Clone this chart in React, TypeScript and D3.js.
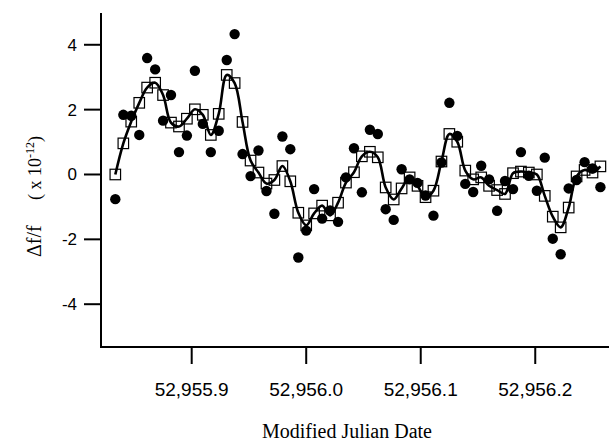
import React from 'react';
import * as d3 from 'd3';

// MJD sample times (10 min cadence)
const mjd = [
  52955.8333, 52955.8403, 52955.8472, 52955.8542, 52955.8611, 52955.8681, 52955.875, 52955.8819,
  52955.8889, 52955.8958, 52955.9028, 52955.9097, 52955.9167, 52955.9236, 52955.9306, 52955.9375,
  52955.9444, 52955.9514, 52955.9583, 52955.9653, 52955.9722, 52955.9792, 52955.9861, 52955.9931,
  52956.0, 52956.0069, 52956.0139, 52956.0208, 52956.0278, 52956.0347, 52956.0417, 52956.0486,
  52956.0556, 52956.0625, 52956.0694, 52956.0764, 52956.0833, 52956.0903, 52956.0972, 52956.1042,
  52956.1111, 52956.1181, 52956.125, 52956.1319, 52956.1389, 52956.1458, 52956.1528, 52956.1597,
  52956.1667, 52956.1736, 52956.1806, 52956.1875, 52956.1944, 52956.2014, 52956.2083, 52956.2153,
  52956.2222, 52956.2292, 52956.2361, 52956.2431, 52956.25, 52956.2569,
];

// raw fractional frequency (filled circles), x 1e-12
const raw = [
  -0.76, 1.84, 1.81, 1.22, 3.59, 3.24, 1.66, 2.45,
  0.69, 1.2, 3.2, 1.56, 0.69, 1.35, 3.53, 4.33,
  0.63, -0.05, 0.74, -0.51, -1.21, 1.17, 0.78, -2.56,
  -1.73, -0.45, -1.36, -1.11, -1.46, -0.09, 0.81, -0.55,
  1.38, 1.25, -1.07, -1.4, 0.16, -0.15, -0.26, -0.65,
  -1.27, 0.37, 2.21, 1.19, -0.29, -0.54, 0.27, -0.15,
  -1.12, -0.2, -0.45, 0.69, -0.04, -0.5, 0.52, -1.98,
  -2.46, -0.43, -0.17, 0.38, 0.19, -0.39,
];

// smoothed values (open squares)
const smooth = [
  0.0, 0.96, 1.63, 2.21, 2.68, 2.83, 2.45, 1.6,
  1.48, 1.72, 2.01, 1.84, 1.22, 1.87, 3.07, 2.82,
  1.62, 0.43, 0.06, -0.28, -0.17, 0.26, -0.21, -1.18,
  -1.57, -1.2, -0.96, -1.26, -0.87, -0.25, 0.07, 0.56,
  0.7, 0.53, -0.4, -0.77, -0.43, -0.09, -0.35, -0.7,
  -0.5, 0.4, 1.25, 1.01, 0.12, -0.15, -0.09, -0.35,
  -0.48, -0.6, 0.04, 0.09, 0.06, 0.0, -0.66, -1.3,
  -1.63, -1.02, -0.06, 0.14, 0.06, 0.25,
];

const yTicks = [-4, -2, 0, 2, 4];
const xTicks = [52955.9, 52956.0, 52956.1, 52956.2];
const xTickLabels = ['52,955.9', '52,956.0', '52,956.1', '52,956.2'];

const W = 609;
const H = 443;
const left = 101;
const right = 609;
const top = 13;
const bottom = 347;

const App = () => {
  const x = d3.scaleLinear().domain([52955.8208, 52956.2644]).range([left, right]);
  const y = d3.scaleLinear().domain([-5.32, 4.98]).range([bottom, top]);

  const pts = mjd.map((t, i) => ({ t, raw: raw[i], s: smooth[i] }));

  const line = d3.line<{ t: number; s: number }>()
    .x(d => x(d.t))
    .y(d => y(d.s))
    .curve(d3.curveCatmullRom.alpha(0.5));

  const sq = 10.5;
  const tickLen = 17;
  const sans = 'Liberation Sans, Arial, Helvetica, sans-serif';
  const serif = 'Liberation Serif, Times New Roman, serif';

  return (
    <div style={{ position: 'absolute', left: 0, top: 0 }}>
      <svg width={W} height={H} style={{ display: 'block', background: '#fff' }}>
        {/* axes */}
        <line x1={left} x2={left} y1={top} y2={bottom + 1} stroke="#000" strokeWidth={2} />
        <line x1={left - 1} x2={right} y1={bottom} y2={bottom} stroke="#000" strokeWidth={2} />

        {yTicks.map(v => (
          <g key={v}>
            <line x1={left - tickLen} x2={left} y1={y(v)} y2={y(v)} stroke="#000" strokeWidth={2} />
            <text x={77} y={y(v) + 6} textAnchor="end" fontFamily={sans} fontSize={17} fill="#000">{v}</text>
          </g>
        ))}

        {xTicks.map((v, i) => (
          <g key={v}>
            <line x1={x(v)} x2={x(v)} y1={bottom} y2={bottom + tickLen} stroke="#000" strokeWidth={2} />
            <text x={x(v)} y={396} textAnchor="middle" fontFamily={sans} fontSize={19} fill="#000">{xTickLabels[i]}</text>
          </g>
        ))}

        {/* axis titles */}
        <text x={347} y={438} textAnchor="middle" fontFamily={serif} fontSize={20} fill="#000">Modified Julian Date</text>
        <g transform="translate(41,257) rotate(-90)">
          <text x={0} y={0} fontFamily={serif} fontSize={20} fill="#000">Δf/f</text>
          <text x={57} y={0} fontFamily={serif} fontSize={18} fill="#000">
            ( x 10<tspan dy={-7} fontSize={12}>-12</tspan><tspan dy={7}>)</tspan>
          </text>
        </g>

        {/* smoothed squares */}
        {pts.map((d, i) => (
          <rect key={'s' + i} x={x(d.t) - sq / 2} y={y(d.s) - sq / 2} width={sq} height={sq}
            fill="none" stroke="#000" strokeWidth={1.2} />
        ))}

        <path d={line(pts) || ''} fill="none" stroke="#000" strokeWidth={2.6} strokeLinejoin="round" />

        {/* raw points */}
        {pts.map((d, i) => (
          <circle key={'r' + i} cx={x(d.t)} cy={y(d.raw)} r={5.2} fill="#000" />
        ))}
      </svg>
    </div>
  );
};

export default App;
